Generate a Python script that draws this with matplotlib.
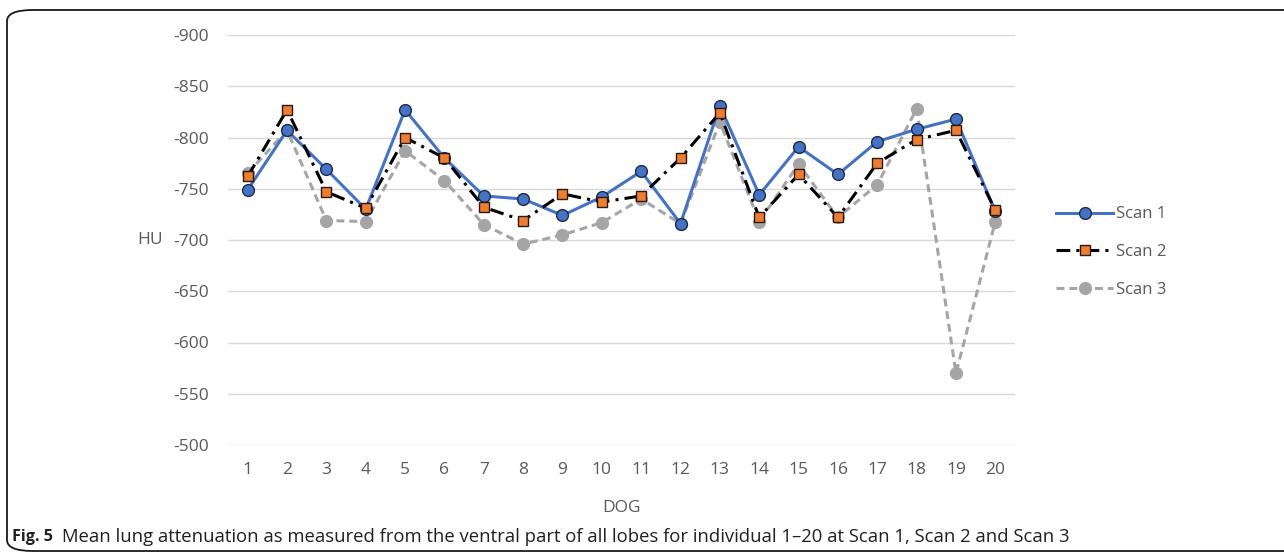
import numpy as np
import matplotlib
matplotlib.use("Agg")
import matplotlib.pyplot as plt
from matplotlib.patches import FancyBboxPatch

plt.rcParams['font.family'] = ['Open Sans', 'DejaVu Sans']

dogs = list(range(1, 21))
scan1 = [-749, -807, -769, -730, -827, -780, -743, -740, -724, -742,
         -767, -716, -831, -744, -791, -764, -796, -808, -818, -728]
scan2 = [-762, -827, -747, -731, -800, -780, -732, -719, -745, -737,
         -743, -780, -824, -722, -764, -722, -775, -798, -807, -729]
scan3 = [-765, -807, -719, -718, -787, -758, -715, -696, -705, -717,
         -740, -716, -815, -718, -774, -722, -754, -828, -570, -718]
yticks = [-900, -850, -800, -750, -700, -650, -600, -550, -500]

W, H = 1284, 556
fig = plt.figure(figsize=(W / 100, H / 100), dpi=100)
ax = fig.add_axes([228 / W, 1 - 445 / H, (1015 - 228) / W, (445 - 35) / H])

txt = '#595959'
ax.plot(dogs, scan1, color='#4472C4', lw=2.2, marker='o', ms=8.5,
        mfc='#4472C4', mec='#1f2a44', mew=1.0, label='Scan 1', zorder=3)
ax.plot(dogs, scan2, color='black', lw=2.2, dashes=(4.5, 2, 1, 2), marker='s', ms=7.5,
        mfc='#ED7D31', mec='#2a1a10', mew=1.0, label='Scan 2', zorder=4)
ax.plot(dogs, scan3, color='#A5A5A5', lw=2.2, dashes=(2.6, 1.6), marker='o', ms=8.5,
        mfc='#A5A5A5', mec='#A5A5A5', label='Scan 3', zorder=2)

ax.set_xlim(0.5, 20.5)
ax.set_ylim(-500, -900)
ax.set_yticks(yticks)
ax.set_yticklabels([str(v) for v in yticks])
ax.set_xticks(dogs)
ax.grid(axis='y', color='#D9D9D9', lw=1.0)
ax.set_axisbelow(True)
for s in ax.spines.values():
    s.set_visible(False)
ax.tick_params(length=0, labelsize=12.5, labelcolor=txt)
ax.tick_params(axis='y', pad=14)
ax.tick_params(axis='x', pad=12)

fig.text(150 / W, 1 - 240 / H, 'HU', fontsize=12.5, color=txt, ha='center', va='center')
fig.text(621 / W, 1 - 508 / H, 'DOG', fontsize=12.5, color=txt, ha='center', va='center')

ax.legend(loc='center left', bbox_to_anchor=(1048 / W, 1 - 252 / H), bbox_transform=fig.transFigure,
          frameon=False, fontsize=12, labelcolor=txt, handlelength=3.4, handletextpad=0.2,
          labelspacing=1.3, borderpad=0)

fig.text(12 / W, 1 - 537 / H, 'Fig. 5', fontsize=11.6, fontweight='bold', color='#231f20',
         ha='left', va='center')
fig.text(62 / W, 1 - 537 / H,
         'Mean lung attenuation as measured from the ventral part of all lobes for individual 1\u201320 at Scan 1, Scan 2 and Scan 3',
         fontsize=13.3, color='#231f20', ha='left', va='center')

box = FancyBboxPatch((7 / W, 1 - 551 / H), 1.2, (551 - 10) / H,
                     boxstyle='round,pad=0,rounding_size=0.02', transform=fig.transFigure,
                     fill=False, ec='#1a1a1a', lw=1.3, clip_on=False)
fig.patches.append(box)

fig.savefig('out.png', dpi=100)
